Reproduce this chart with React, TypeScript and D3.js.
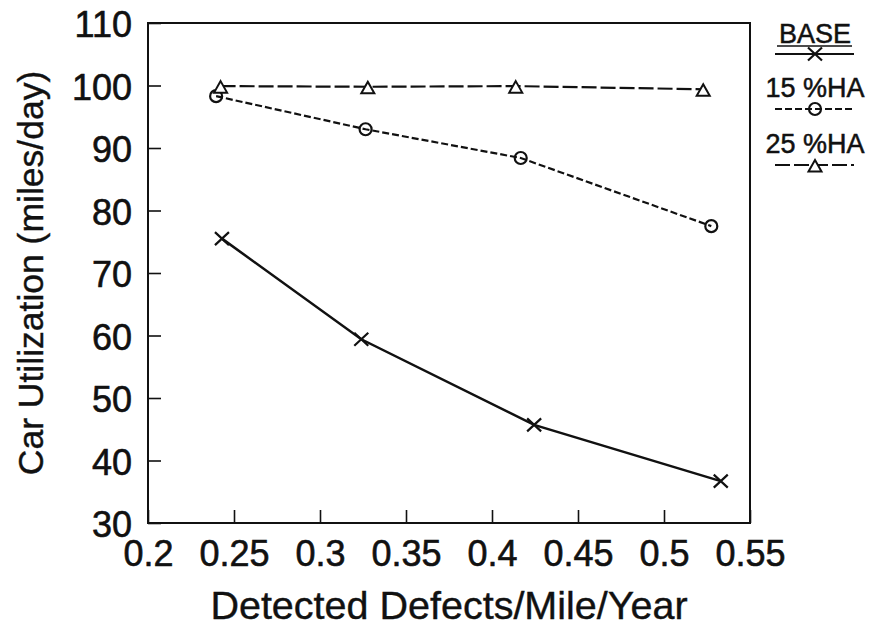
import { useEffect } from "react"
import * as d3 from "d3"

const seriesNames = ["BASE", "15 %HA", "25 %HA"]

const baseX = [0.243, 0.324, 0.4245, 0.533]
const baseY = [75.5, 59.4, 45.7, 36.7]

const ha15X = [0.2396, 0.3265, 0.4167, 0.5275]
const ha15Y = [98.3, 93.0, 88.4, 77.5]

const ha25X = [0.2422, 0.3278, 0.4138, 0.5228]
const ha25Y = [99.9, 99.8, 99.9, 99.4]

const xTicks = [0.2, 0.25, 0.3, 0.35, 0.4, 0.45, 0.5, 0.55]
const xTickLabels = ["0.2", "0.25", "0.3", "0.35", "0.4", "0.45", "0.5", "0.55"]
const yTicks = [30, 40, 50, 60, 70, 80, 90, 100, 110]
const yTickLabels = ["30", "40", "50", "60", "70", "80", "90", "100", "110"]

const xTitle = "Detected Defects/Mile/Year"
const yTitle = "Car Utilization (miles/day)"

const FONT = "'Liberation Sans', Arial, Helvetica, sans-serif"

export default function App() {
    const width = 872, height = 628
    const margin = { top: 23, left: 148, bottom: 105, right: 122 }

    const drawChart = () => {
        const innerW = width - margin.left - margin.right
        const innerH = height - margin.top - margin.bottom

        d3.select(".carUtilChart svg").remove()

        const svg = d3.select(".carUtilChart")
            .append("svg")
            .attr("width", width)
            .attr("height", height)
            .style("display", "block")
            .style("background", "#fff")

        const g = svg.append("g")
            .attr("transform", `translate(${margin.left}, ${margin.top})`)

        const xScale = d3.scaleLinear().domain([0.2, 0.55]).range([0, innerW])
        const yScale = d3.scaleLinear().domain([30, 110]).range([innerH, 0])

        const yAxis = d3.axisLeft(yScale)
            .tickValues(yTicks)
            .tickFormat((d, i) => yTickLabels[i])
            .tickSizeInner(-13)
            .tickSizeOuter(0)
            .tickPadding(16)

        const yG = g.append("g").attr("class", "y-axis").call(yAxis)
        yG.select(".domain").remove()
        yG.selectAll("line").attr("stroke", "#111").attr("stroke-width", 1.6)
        yG.selectAll("text")
            .attr("dy", "0.38em")
            .style("font-family", FONT)
            .style("font-size", "36px")
            .attr("fill", "#111")
            .attr("stroke", "#111")
            .attr("stroke-width", 0.6)

        const xAxis = d3.axisBottom(xScale)
            .tickValues(xTicks)
            .tickFormat((d, i) => xTickLabels[i])
            .tickSizeInner(-13)
            .tickSizeOuter(0)
            .tickPadding(17)

        const xG = g.append("g")
            .attr("class", "x-axis")
            .attr("transform", `translate(0, ${innerH})`)
            .call(xAxis)
        xG.select(".domain").remove()
        xG.selectAll("line").attr("stroke", "#111").attr("stroke-width", 1.6)
        xG.selectAll("text")
            .style("font-family", FONT)
            .style("font-size", "36px")
            .attr("fill", "#111")
            .attr("stroke", "#111")
            .attr("stroke-width", 0.6)

        // frame
        g.append("rect")
            .attr("x", 0)
            .attr("y", 0)
            .attr("width", innerW)
            .attr("height", innerH)
            .attr("fill", "none")
            .attr("stroke", "#111")
            .attr("stroke-width", 2)

        // axis titles
        svg.append("text")
            .attr("x", margin.left + innerW / 2)
            .attr("y", 619)
            .attr("text-anchor", "middle")
            .style("font-family", FONT)
            .style("font-size", "39.5px")
            .attr("fill", "#111")
            .attr("stroke", "#111")
            .attr("stroke-width", 0.4)
            .text(xTitle)

        svg.append("text")
            .attr("transform", `translate(43, ${margin.top + innerH / 2}) rotate(-90)`)
            .attr("text-anchor", "middle")
            .style("font-family", FONT)
            .style("font-size", "35.5px")
            .attr("fill", "#111")
            .attr("stroke", "#111")
            .attr("stroke-width", 0.4)
            .text(yTitle)

        const series = [
            { xs: baseX, ys: baseY, dash: null, marker: "x" },
            { xs: ha15X, ys: ha15Y, dash: "7,3", marker: "o" },
            { xs: ha25X, ys: ha25Y, dash: "15,4", marker: "t" },
        ]

        const linePath = d3.line<[number, number]>()
            .x((d) => xScale(d[0]))
            .y((d) => yScale(d[1]))
            .curve(d3.curveLinear)

        const drawMarker = (sel, kind, cx, cy) => {
            if (kind === "x") {
                sel.append("path")
                    .attr("d", `M${cx - 7},${cy - 6.5}L${cx + 7},${cy + 6.5}M${cx - 7},${cy + 6.5}L${cx + 7},${cy - 6.5}`)
                    .attr("stroke", "#111")
                    .attr("stroke-width", 2.2)
                    .attr("fill", "none")
            } else if (kind === "o") {
                sel.append("circle")
                    .attr("cx", cx)
                    .attr("cy", cy)
                    .attr("r", 6)
                    .attr("stroke", "#111")
                    .attr("stroke-width", 2.2)
                    .attr("fill", "none")
            } else {
                sel.append("path")
                    .attr("d", `M${cx},${cy - 5}L${cx + 6.5},${cy + 6.5}L${cx - 6.5},${cy + 6.5}Z`)
                    .attr("stroke", "#111")
                    .attr("stroke-width", 2)
                    .attr("fill", "#fff")
            }
        }

        const plot = g.append("g").attr("class", "lines")

        series.forEach((s) => {
            const pts = s.xs.map((x, i) => [x, s.ys[i]] as [number, number])
            plot.append("path")
                .attr("d", linePath(pts))
                .attr("fill", "none")
                .attr("stroke", "#111")
                .attr("stroke-width", s.dash ? 2.2 : 2.5)
                .attr("stroke-dasharray", s.dash)
            pts.forEach((p) => drawMarker(plot, s.marker, xScale(p[0]), yScale(p[1])))
        })

        // legend at the right of the frame
        const legend = svg.append("g").attr("class", "legend")
        const legendTextY = [43, 97, 153]
        const legendLineY = [54, 109, 165]
        const lx = 815
        series.forEach((s, i) => {
            legend.append("text")
                .attr("x", lx)
                .attr("y", legendTextY[i])
                .attr("text-anchor", "middle")
                .style("font-family", FONT)
                .style("font-size", "27px")
                .attr("fill", "#111")
                .attr("stroke", "#111")
                .attr("stroke-width", 0.5)
                .text(seriesNames[i])
            legend.append("line")
                .attr("x1", lx - 40)
                .attr("x2", lx + 39)
                .attr("y1", legendLineY[i])
                .attr("y2", legendLineY[i])
                .attr("stroke", "#111")
                .attr("stroke-width", s.dash ? 1.8 : 2.2)
                .attr("stroke-dasharray", s.dash)
            drawMarker(legend, s.marker, lx, legendLineY[i])
        })
        // BASE is underlined in the original
        legend.append("line")
            .attr("x1", lx - 38)
            .attr("x2", lx + 37)
            .attr("y1", 46)
            .attr("y2", 46)
            .attr("stroke", "#111")
            .attr("stroke-width", 1.4)
    }

    useEffect(() => {
        drawChart()
    }, [])

    return (
        <div className="carUtilChart" style={{ position: "absolute", left: 0, top: 0 }}></div>
    )
}
